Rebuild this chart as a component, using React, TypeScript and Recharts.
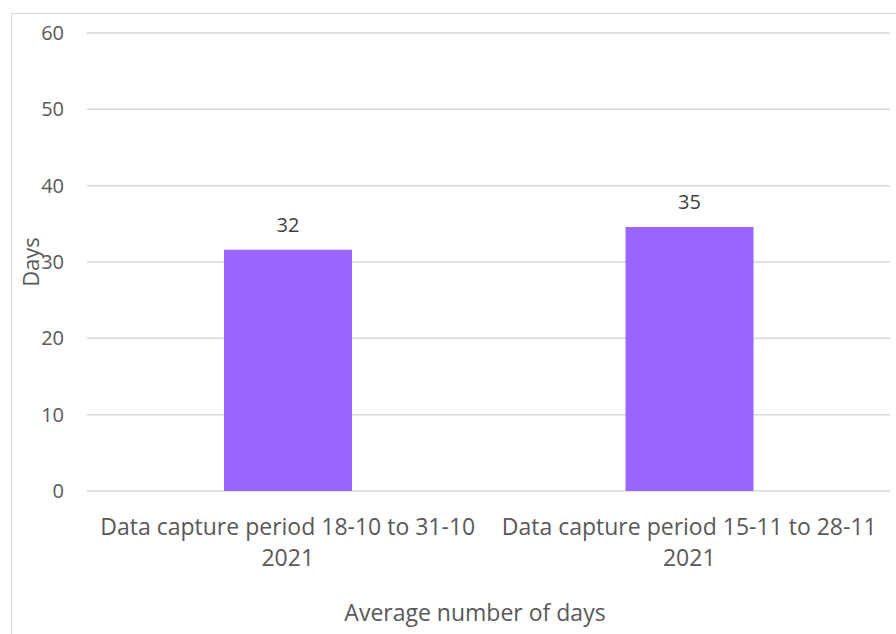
import React from 'react';
import { BarChart, Bar, XAxis, YAxis, CartesianGrid, LabelList } from 'recharts';

const categories = ['Data capture period 18-10 to 31-10 2021', 'Data capture period 15-11 to 28-11 2021'];
const values = [31.6, 34.6];
const yTicks = [0, 10, 20, 30, 40, 50, 60];

const data = categories.map((c, i) => ({ name: c, value: values[i] }));

const FONT = '"Open Sans", "Noto Sans", sans-serif';

const XTick = (props: any) => {
  const { x, y, payload } = props;
  const s: string = payload.value;
  const idx = s.lastIndexOf(' ');
  const l1 = s.slice(0, idx);
  const l2 = s.slice(idx + 1);
  return (
    <text x={x} y={y} textAnchor="middle" fill="#595959" fontSize={23} fontFamily={FONT}>
      <tspan x={x} dy={44}>{l1}</tspan>
      <tspan x={x} dy={31}>{l2}</tspan>
    </text>
  );
};

export default function App() {
  return (
    <div style={{ position: 'absolute', left: 0, top: 0, width: 896, height: 634, overflow: 'hidden', background: '#fff' }}>
      <div style={{ position: 'absolute', left: 11, top: 13, width: 1000, height: 800, border: '1px solid #d9d9d9' }} />
      <div style={{ position: 'absolute', left: 0, top: 0 }}>
        <BarChart width={896} height={634} data={data} margin={{ top: 33, right: 6, bottom: 0, left: 0 }}>
          <CartesianGrid vertical={false} stroke="#d9d9d9" strokeWidth={1.5} />
          <XAxis
            dataKey="name"
            height={143}
            tickLine={false}
            axisLine={false}
            tickSize={0}
            tickMargin={0}
            interval={0}
            tick={<XTick />}
            label={(p: any) => (
              <text x={475} y={621} textAnchor="middle" fill="#595959" fontSize={23} fontFamily={FONT}>
                Average number of days
              </text>
            )}
          />
          <YAxis
            width={87}
            domain={[0, 60]}
            ticks={yTicks}
            tickLine={false}
            axisLine={false}
            tickSize={0}
            tickMargin={23}
            tick={{ fill: '#595959', fontSize: 20, fontFamily: FONT }}
            label={(p: any) => (
              <text
                x={39}
                y={262}
                textAnchor="middle"
                transform="rotate(-90 39 262)"
                fill="#595959"
                fontSize={22}
                fontFamily={FONT}
              >
                Days
              </text>
            )}
          />
          <Bar dataKey="value" fill="#9966FF" barSize={128} isAnimationActive={false}>
            <LabelList
              dataKey="value"
              position="top"
              offset={18}
              formatter={(v: any) => Math.round(Number(v))}
              fill="#404040"
              fontSize={20}
              fontFamily={FONT}
            />
          </Bar>
        </BarChart>
      </div>
    </div>
  );
}
